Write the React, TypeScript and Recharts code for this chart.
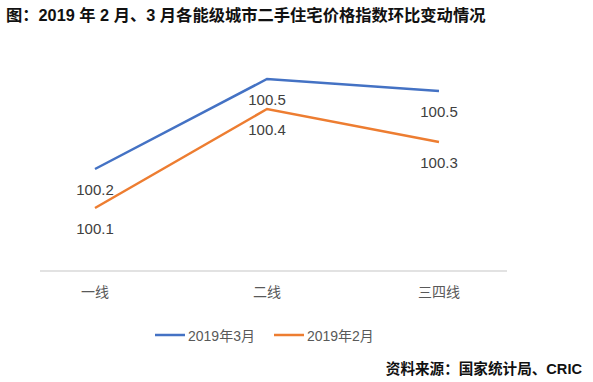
import React from 'react';
import { LineChart, Line, XAxis, YAxis, Legend, LabelList } from 'recharts';

const categories = ['一线', '二线', '三四线'];
const march2019 = [100.24, 100.54, 100.5];
const feb2019 = [100.11, 100.44, 100.33];
const seriesNames = ['2019年3月', '2019年2月'];
const titleText = '图：2019 年 2 月、3 月各能级城市二手住宅价格指数环比变动情况';
const sourceText = '资料来源：国家统计局、CRIC';

const data = categories.map((c, i) => ({ name: c, mar: march2019[i], feb: feb2019[i] }));

const BLUE = '#4472C4';
const ORANGE = '#ED7D31';
const FONT = '"Liberation Sans", Arial, "Noto Sans CJK SC", sans-serif';

const makeLabel = (props: any) => {
  const { x, y, value } = props;
  return (
    <text x={x} y={y + 26} textAnchor="middle" fill="#404040" fontSize={15} fontFamily={FONT}>
      {Number(value).toFixed(1)}
    </text>
  );
};

const LegendContent = () => {
  const items = [
    { name: seriesNames[0], color: BLUE },
    { name: seriesNames[1], color: ORANGE },
  ];
  return (
    <div style={{ display: 'flex', alignItems: 'center', fontFamily: FONT, fontSize: 14, color: '#595959' }}>
      {items.map((it, i) => (
        <div key={i} style={{ display: 'flex', alignItems: 'center', marginRight: i === 0 ? 19 : 0 }}>
          <svg width={30} height={4} style={{ marginRight: 3 }}>
            <line x1={0} y1={2} x2={30} y2={2} stroke={it.color} strokeWidth={2.5} />
          </svg>
          <span>{it.name}</span>
        </div>
      ))}
    </div>
  );
};

export default function App() {
  return (
    <div style={{ position: 'absolute', left: 0, top: 0, width: 593, height: 382, background: '#fff' }}>
      <div
        style={{
          position: 'absolute',
          left: 6,
          top: 4,
          fontFamily: FONT,
          fontWeight: 'bold',
          fontSize: 16.3,
          color: '#111',
          whiteSpace: 'nowrap',
          lineHeight: '22px',
        }}
      >
        {titleText}
      </div>
      <LineChart
        width={593}
        height={382}
        data={data}
        margin={{ top: 61, right: 86, bottom: 81, left: 40 }}
      >
        <XAxis
          dataKey="name"
          height={30}
          padding={{ left: 55, right: 68 }}
          axisLine={{ stroke: '#d9d9d9', strokeWidth: 1.5 }}
          tickLine={false}
          tickSize={0}
          tickMargin={16}
          tick={{ fill: '#595959', fontSize: 14, fontFamily: FONT }}
        />
        <YAxis hide domain={[99.9, 100.6]} />
        <Legend
          verticalAlign="middle"
          align="center"
          layout="horizontal"
          content={<LegendContent />}
          wrapperStyle={{ position: 'absolute', top: 325, left: 155, width: 260 }}
        />
        <Line
          type="linear"
          dataKey="mar"
          name={seriesNames[0]}
          stroke={BLUE}
          strokeWidth={2.5}
          dot={false}
          isAnimationActive={false}
        >
          <LabelList dataKey="mar" content={makeLabel} />
        </Line>
        <Line
          type="linear"
          dataKey="feb"
          name={seriesNames[1]}
          stroke={ORANGE}
          strokeWidth={2.5}
          dot={false}
          isAnimationActive={false}
        >
          <LabelList dataKey="feb" content={makeLabel} />
        </Line>
      </LineChart>
      <div
        style={{
          position: 'absolute',
          right: 11,
          top: 358,
          fontFamily: FONT,
          fontWeight: 'bold',
          fontSize: 14.6,
          color: '#111',
          whiteSpace: 'nowrap',
          lineHeight: '22px',
        }}
      >
        {sourceText}
      </div>
    </div>
  );
}
